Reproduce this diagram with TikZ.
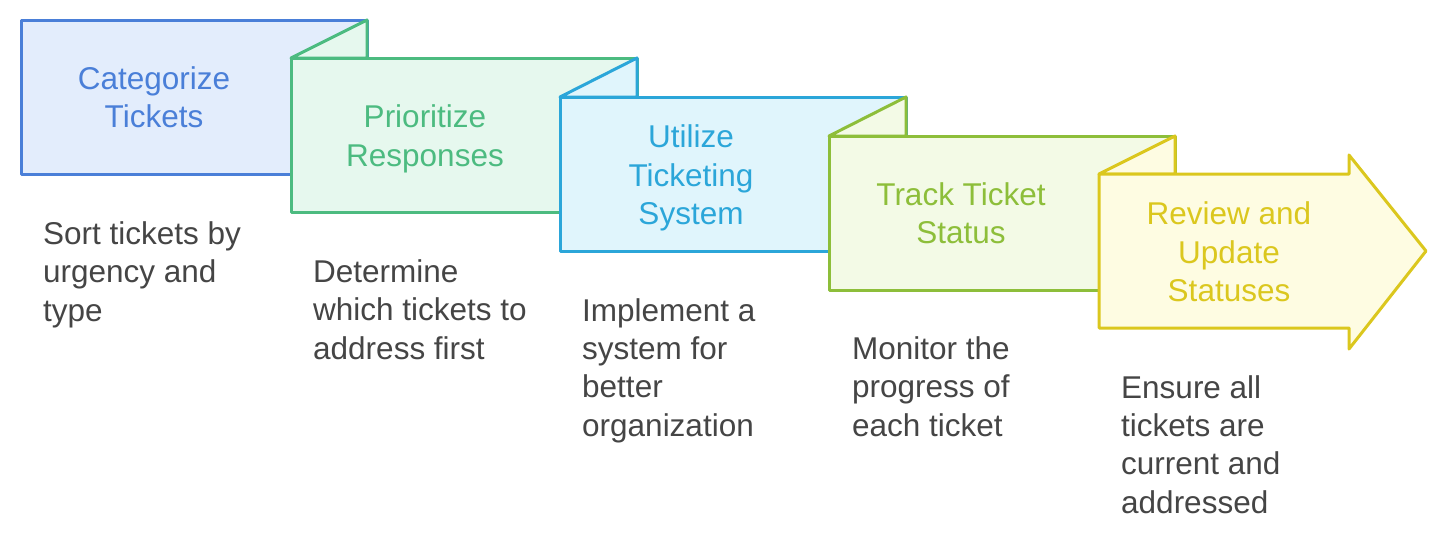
\documentclass[tikz,border=0pt]{standalone}
\usepackage{fontspec}
\setmainfont{Liberation Sans}
\definecolor{cA}{HTML}{4A7FD8}\definecolor{fA}{HTML}{E3EDFC}
\definecolor{cB}{HTML}{4CBB80}\definecolor{fB}{HTML}{E6F8EE}
\definecolor{cC}{HTML}{2BA6D9}\definecolor{fC}{HTML}{E0F5FC}
\definecolor{cD}{HTML}{8DBE3A}\definecolor{fD}{HTML}{F3FAE6}
\definecolor{cE}{HTML}{DBC71E}\definecolor{fE}{HTML}{FEFCE2}
\definecolor{desc}{HTML}{454545}
\begin{document}
\begin{tikzpicture}[x=1pt,y=-1pt,
  shapeline/.style={line width=3pt,line join=round},
  title/.style={align=center,inner sep=0pt,font=\fontsize{31.5}{38.5}\selectfont},
  descr/.style={align=left,anchor=base west,inner sep=0pt,text=desc,font=\fontsize{31.5}{38.3}\selectfont}]
\useasboundingbox (0,0) rectangle (1447,541);
% box 1
\draw[shapeline,draw=cA,fill=fA] (21,20) rectangle (367,174);
% box 2
\draw[shapeline,draw=cB,fill=fB] (291,58) -- (367,20) -- (367,58) -- cycle;
\draw[shapeline,draw=cB,fill=fB] (291,58) rectangle (637,212);
% box 3
\draw[shapeline,draw=cC,fill=fC] (560,97) -- (637,58) -- (637,97) -- cycle;
\draw[shapeline,draw=cC,fill=fC] (560,97) rectangle (906,251);
% box 4
\draw[shapeline,draw=cD,fill=fD] (829,136) -- (906,97) -- (906,136) -- cycle;
\draw[shapeline,draw=cD,fill=fD] (829,136) rectangle (1175,290);
% box 5 arrow
\draw[shapeline,draw=cE,fill=fE] (1099,174) -- (1175,136) -- (1175,174) -- cycle;
\draw[shapeline,draw=cE,fill=fE] (1099,174) -- (1349,174) -- (1349,155) -- (1426,251) -- (1349,349) -- (1349,328) -- (1099,328) -- cycle;
% titles
\node[title,text=cA] (t1) at (154,97) {Categorize\\Tickets};
\node[title,text=cB] (t2) at (425,139) {Prioritize\\Responses};
\node[title,text=cC] (t3) at (691,178) {Utilize\\Ticketing\\System};
\node[title,text=cD] (t4) at (961,213) {Track Ticket\\Status};
\node[title,text=cE] (t5) at (1229,252) {Review and\\Update\\Statuses};
% descriptions (anchored at the baseline of the last line)
\node[descr] (d1) at (43,321) {Sort tickets by\\urgency and\\type};
\node[descr] (d2) at (313,359) {Determine\\which tickets to\\address first};
\node[descr] (d3) at (582,436) {Implement a\\system for\\better\\organization};
\node[descr] (d4) at (852,436) {Monitor the\\progress of\\each ticket};
\node[descr] (d5) at (1121,513) {Ensure all\\tickets are\\current and\\addressed};
\end{tikzpicture}
\end{document}
